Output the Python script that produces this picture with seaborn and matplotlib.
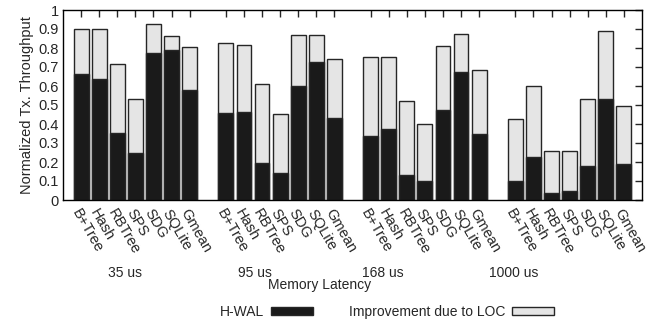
"""Normalized transaction throughput per benchmark across memory latencies."""

import matplotlib
matplotlib.use("Agg")
import matplotlib.pyplot as plt
from matplotlib.patches import Patch
from matplotlib.ticker import FuncFormatter, MultipleLocator
import pandas as pd
import seaborn as sns

# Data
LATENCIES = ["35 us", "95 us", "168 us", "1000 us"]
BENCHMARKS = ["B+Tree", "Hash", "RBTree", "SPS", "SDG", "SQLite", "Gmean"]

HWAL = [
    [0.662, 0.635, 0.354, 0.248, 0.775, 0.792, 0.577],
    [0.457, 0.461, 0.197, 0.144, 0.598, 0.725, 0.432],
    [0.336, 0.374, 0.134, 0.102, 0.476, 0.674, 0.349],
    [0.100, 0.224, 0.039, 0.048, 0.178, 0.529, 0.189],
]
WITH_LOC = [
    [0.898, 0.898, 0.715, 0.534, 0.926, 0.864, 0.805],
    [0.824, 0.817, 0.608, 0.455, 0.869, 0.869, 0.740],
    [0.751, 0.755, 0.523, 0.398, 0.813, 0.873, 0.685],
    [0.424, 0.601, 0.260, 0.260, 0.530, 0.887, 0.493],
]

BLACK = "#1a1a1a"
GRAY = "#e5e5e5"
EDGE = "#262626"


def build_frame():
    rows = []
    for g, lat in enumerate(LATENCIES):
        for i, bench in enumerate(BENCHMARKS):
            rows.append({
                "slot": g * (len(BENCHMARKS) + 1) + i + 1,
                "latency": lat,
                "bench": bench,
                "hwal": HWAL[g][i],
                "total": WITH_LOC[g][i],
            })
    return pd.DataFrame(rows)


def main():
    sns.set_style("white")
    plt.rcParams["font.family"] = ["Liberation Sans", "DejaVu Sans"]
    plt.rcParams["font.size"] = 10

    df = build_frame()

    fig = plt.figure(figsize=(6.5, 3.25), dpi=100)
    ax = fig.add_axes([63 / 650, 1 - 200 / 325, 579 / 650, 190 / 325])

    common = dict(data=df, x="slot", native_scale=True, width=0.82,
                  edgecolor=EDGE, linewidth=1.0, ax=ax)
    sns.barplot(y="total", color=GRAY, saturation=1, **common)
    sns.barplot(y="hwal", color=BLACK, saturation=1, **common)

    ax.set_xlim(0, 32)
    ax.set_ylim(0, 1)
    ax.yaxis.set_major_locator(MultipleLocator(0.1))
    ax.yaxis.set_major_formatter(FuncFormatter(lambda v, _: f"{v:g}"))
    ax.set_ylabel("Normalized Tx. Throughput", fontsize=10.5, labelpad=3)
    ax.set_xlabel("")

    ax.set_xticks(df["slot"])
    ax.set_xticklabels(df["bench"], rotation=-60, ha="left", va="top",
                       rotation_mode="anchor", fontsize=10.5)
    ax.tick_params(axis="x", which="both", direction="in", bottom=False,
                   top=True, length=5, width=1, color=EDGE, pad=5)
    ax.tick_params(axis="y", direction="in", left=False, right=True,
                   length=5, width=1, color=EDGE, pad=3, labelsize=10.5)
    for spine in ax.spines.values():
        spine.set_visible(True)
        spine.set_color("black")
        spine.set_linewidth(1.0)

    # Latency group labels and shared x title
    trans = ax.get_xaxis_transform()
    group_x = [3.4, 10.6, 17.7, 24.9]
    for x, lat in zip(group_x, LATENCIES):
        ax.text(x, -0.385, lat, transform=trans, ha="center", va="center")
    ax.text(14.2, -0.45, "Memory Latency", transform=trans, ha="center",
            va="center")

    handles = [
        Patch(facecolor=BLACK, edgecolor=EDGE, linewidth=1, label="H-WAL"),
        Patch(facecolor=GRAY, edgecolor=EDGE, linewidth=1,
              label="Improvement due to LOC"),
    ]
    fig.legend(handles=handles, loc="center", bbox_to_anchor=(0.595, 1 - 312 / 325),
               ncol=2, frameon=False, markerfirst=False, handlelength=3.0,
               handleheight=0.5, handletextpad=0.5, columnspacing=2.6)

    fig.savefig("out.png", dpi=100)


if __name__ == "__main__":
    main()
